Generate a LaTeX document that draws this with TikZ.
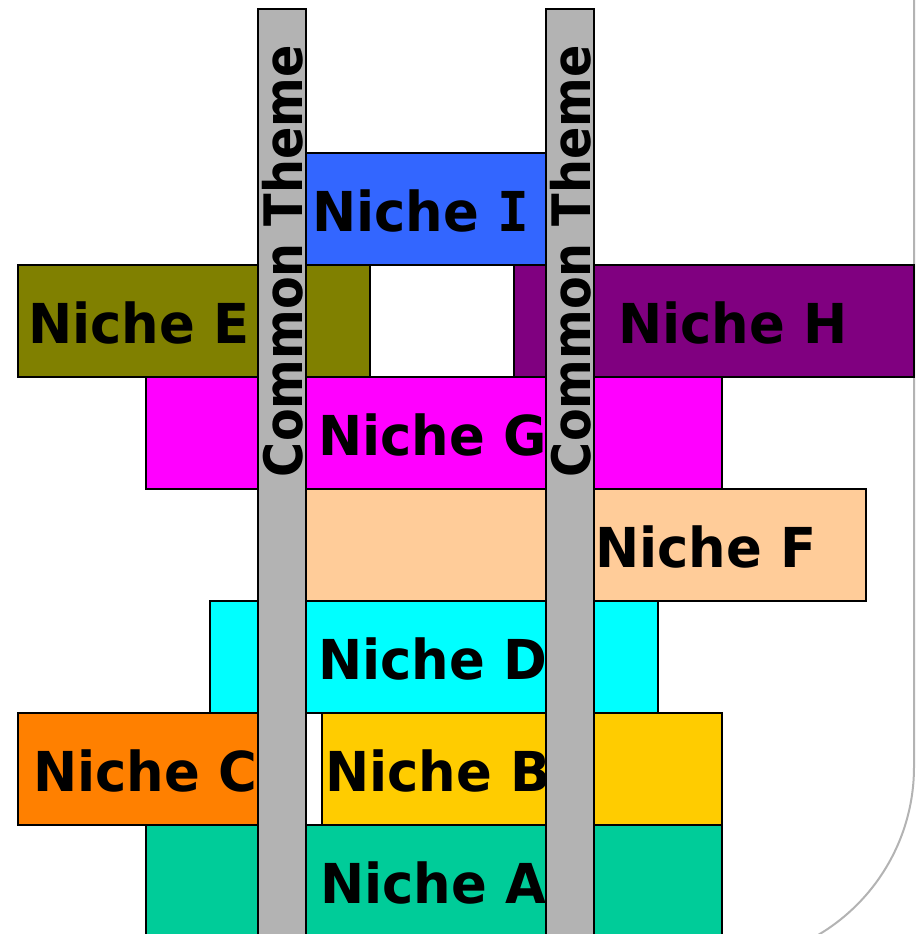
\documentclass[tikz,border=0pt]{standalone}
\usepackage{fontspec}
\setmainfont{DejaVu Sans}
\newfontfamily\nichefont{DejaVu Sans}[FakeStretch=0.96]
\newfontfamily\serifI{DejaVu Sans Mono}[FakeStretch=0.96]
\newfontfamily\themefont{DejaVu Sans}[FakeStretch=0.90]
\definecolor{cI}{HTML}{3366FF}
\definecolor{cE}{HTML}{808000}
\definecolor{cH}{HTML}{800080}
\definecolor{cG}{HTML}{FF00FF}
\definecolor{cF}{HTML}{FFCC99}
\definecolor{cD}{HTML}{00FFFF}
\definecolor{cC}{HTML}{FF8000}
\definecolor{cB}{HTML}{FFCC00}
\definecolor{cA}{HTML}{00CC99}
\definecolor{barc}{HTML}{B3B3B3}
\tikzset{
  nbox/.style={draw=black, line width=2pt, inner sep=0pt, outer sep=0pt, minimum height=112pt},
  nlabel/.style={anchor=base west, inner sep=0pt, outer sep=0pt, font=\nichefont\bfseries\fontsize{55}{55}\selectfont},
  bar/.style={draw=black, line width=2pt, fill=barc, inner sep=0pt, minimum width=48pt, minimum height=951pt},
  tlabel/.style={anchor=base west, rotate=90, inner sep=0pt, outer sep=0pt, font=\themefont\bfseries\fontsize{53}{53}\selectfont},
  frame/.style={draw=barc, line width=2pt}
}
\begin{document}
\begin{tikzpicture}[x=1pt,y=-1pt]
\useasboundingbox (0,0) rectangle (919,934);
\clip (0,0) rectangle (919,934);
% frame curve
\draw[frame] (914,-5) -- (914,767) arc[start angle=0, end angle=75, radius=195];
% niche boxes
\node[nbox, fill=cI, minimum width=336pt] (bI) at (426,209) {};
\node[nbox, fill=cE, minimum width=352pt] (bE) at (194,321) {};
\node[nbox, fill=cH, minimum width=400pt] (bH) at (714,321) {};
\node[nbox, fill=cG, minimum width=576pt] (bG) at (434,433) {};
\node[nbox, fill=cF, minimum width=608pt] (bF) at (562,545) {};
\node[nbox, fill=cD, minimum width=448pt] (bD) at (434,657) {};
\node[nbox, fill=cC, minimum width=264pt] (bC) at (150,769) {};
\node[nbox, fill=cB, minimum width=400pt] (bB) at (522,769) {};
\node[nbox, fill=cA, minimum width=576pt, minimum height=140pt] (bA) at (434,895) {};
% labels
\node[nlabel] (tI) at (312,231) {Niche {\serifI\bfseries I}};
\node[nlabel] (tE) at (28,343) {Niche E};
\node[nlabel] (tH) at (618,343) {Niche H};
\node[nlabel] (tG) at (318,455) {Niche G};
\node[nlabel] (tF) at (595,567) {Niche F};
\node[nlabel] (tD) at (318,679) {Niche D};
\node[nlabel] (tC) at (33,791) {Niche C};
\node[nlabel] (tB) at (325,791) {Niche B};
\node[nlabel] (tA) at (320,903) {Niche A};
% common theme bars
\node[bar] (bar1) at (282,484.5) {};
\node[bar] (bar2) at (570,484.5) {};
\node[tlabel] (th1) at (302,477) {Common Theme};
\node[tlabel] (th2) at (590,477) {Common Theme};
\end{tikzpicture}
\end{document}
